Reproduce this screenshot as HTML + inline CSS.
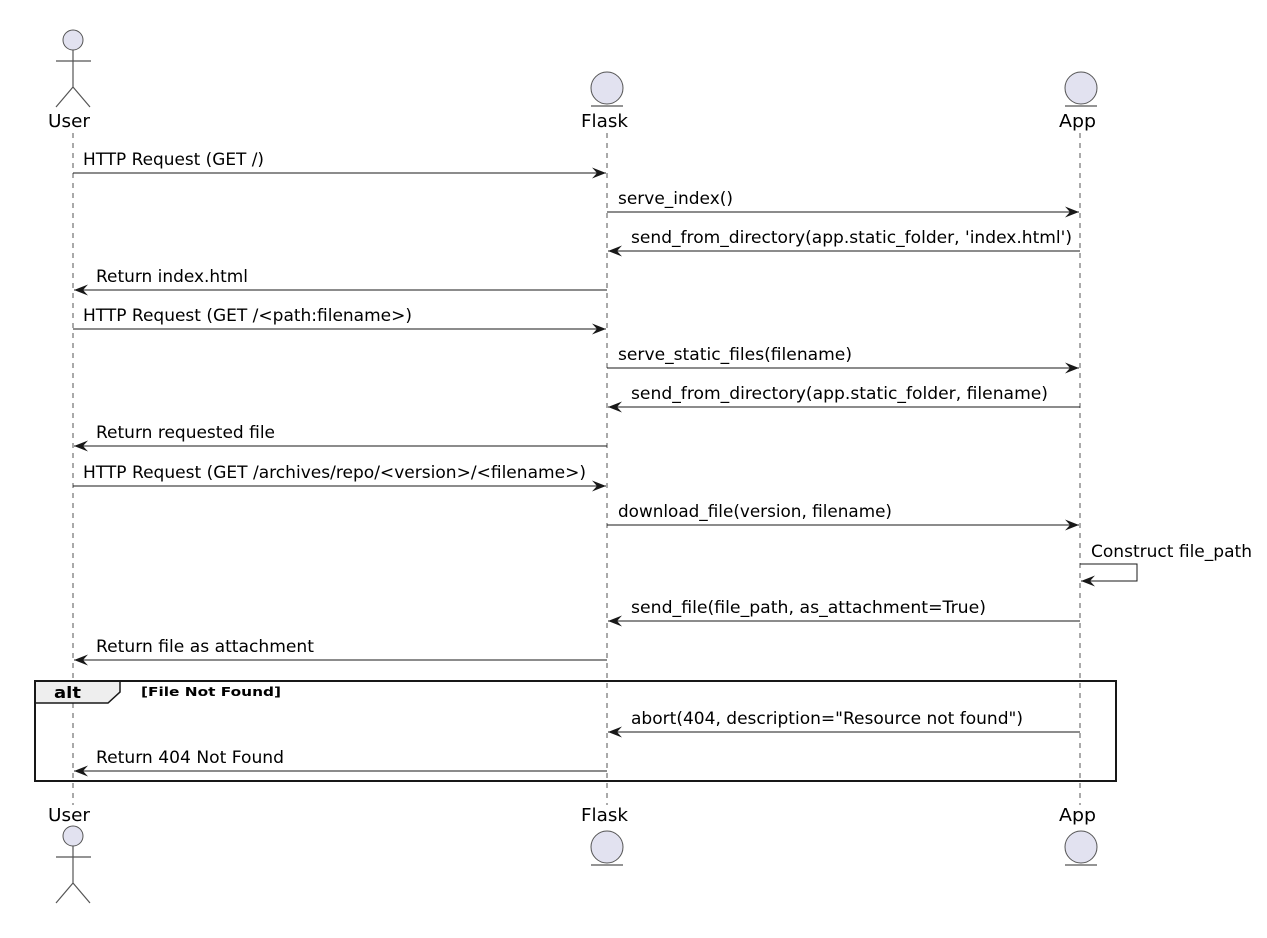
<!DOCTYPE html>
<html><head><meta charset="utf-8"><style>
html,body{margin:0;padding:0;background:#fff;}
svg{display:block;}
text{font-family:"DejaVu Sans","Liberation Sans",sans-serif;fill:#000;}
.m{font-size:16.5px;}
.h{font-size:18px;}
</style></head><body>
<svg width="1267" height="938" viewBox="0 0 1267 938" xmlns="http://www.w3.org/2000/svg">
<defs>
<marker id="a" markerWidth="15" markerHeight="11" refX="14" refY="5.5" orient="auto" markerUnits="userSpaceOnUse">
<path d="M0,0 L14,5.5 L0,11 L5,5.5 Z" fill="#181818"/>
</marker>
</defs>
<g stroke="#555" stroke-width="1" stroke-dasharray="5,5">
<line x1="73" y1="133" x2="73" y2="805"/>
<line x1="607" y1="133" x2="607" y2="805"/>
<line x1="1080" y1="133" x2="1080" y2="805"/>
</g>
<g fill="#e2e2f0" stroke="#555" stroke-width="1">
<circle cx="73" cy="40" r="10"/>
<circle cx="607" cy="88" r="16"/>
<circle cx="1081" cy="88" r="16"/>
<circle cx="73" cy="836" r="10"/>
<circle cx="607" cy="847" r="16"/>
<circle cx="1081" cy="847" r="16"/>
</g>
<g stroke="#555" stroke-width="1.2" fill="none">
<path d="M73,50 V87 M56,61 H91 M73,87 L56,107 M73,87 L90,107"/>
<path d="M73,846 V883 M56,857 H91 M73,883 L56,903 M73,883 L90,903"/>
<path d="M591,106 H623 M1065,106 H1097 M591,865 H623 M1065,865 H1097"/>
</g>
<text class="h" x="48" y="127" textLength="42" lengthAdjust="spacingAndGlyphs">User</text>
<text class="h" x="581" y="127" textLength="47" lengthAdjust="spacingAndGlyphs">Flask</text>
<text class="h" x="1059" y="127" textLength="37" lengthAdjust="spacingAndGlyphs">App</text>
<text class="h" x="48" y="821" textLength="42" lengthAdjust="spacingAndGlyphs">User</text>
<text class="h" x="581" y="821" textLength="47" lengthAdjust="spacingAndGlyphs">Flask</text>
<text class="h" x="1059" y="821" textLength="37" lengthAdjust="spacingAndGlyphs">App</text>
<g stroke="#181818" stroke-width="1" fill="none" marker-end="url(#a)">
<line x1="73" y1="173" x2="606" y2="173"/>
<line x1="607" y1="212" x2="1079" y2="212"/>
<line x1="1080" y1="251" x2="608" y2="251"/>
<line x1="607" y1="290" x2="74" y2="290"/>
<line x1="73" y1="329" x2="606" y2="329"/>
<line x1="607" y1="368" x2="1079" y2="368"/>
<line x1="1080" y1="407" x2="608" y2="407"/>
<line x1="607" y1="446" x2="74" y2="446"/>
<line x1="73" y1="486" x2="606" y2="486"/>
<line x1="607" y1="525" x2="1079" y2="525"/>
<path d="M1080,564 H1137 V581 H1081"/>
<line x1="1080" y1="621" x2="608" y2="621"/>
<line x1="607" y1="660" x2="74" y2="660"/>
<line x1="1080" y1="732" x2="608" y2="732"/>
<line x1="607" y1="771" x2="74" y2="771"/>
</g>
<text class="m" x="83" y="165" textLength="181" lengthAdjust="spacingAndGlyphs">HTTP Request (GET /)</text>
<text class="m" x="618" y="204" textLength="115" lengthAdjust="spacingAndGlyphs">serve_index()</text>
<text class="m" x="631" y="243" textLength="441" lengthAdjust="spacingAndGlyphs">send_from_directory(app.static_folder, 'index.html')</text>
<text class="m" x="96" y="282" textLength="152" lengthAdjust="spacingAndGlyphs">Return index.html</text>
<text class="m" x="83" y="321" textLength="329" lengthAdjust="spacingAndGlyphs">HTTP Request (GET /&lt;path:filename&gt;)</text>
<text class="m" x="618" y="360" textLength="234" lengthAdjust="spacingAndGlyphs">serve_static_files(filename)</text>
<text class="m" x="631" y="399" textLength="417" lengthAdjust="spacingAndGlyphs">send_from_directory(app.static_folder, filename)</text>
<text class="m" x="96" y="438" textLength="179" lengthAdjust="spacingAndGlyphs">Return requested file</text>
<text class="m" x="83" y="478" textLength="503" lengthAdjust="spacingAndGlyphs">HTTP Request (GET /archives/repo/&lt;version&gt;/&lt;filename&gt;)</text>
<text class="m" x="618" y="517" textLength="274" lengthAdjust="spacingAndGlyphs">download_file(version, filename)</text>
<text class="m" x="1091" y="557" textLength="161" lengthAdjust="spacingAndGlyphs">Construct file_path</text>
<text class="m" x="631" y="613" textLength="355" lengthAdjust="spacingAndGlyphs">send_file(file_path, as_attachment=True)</text>
<text class="m" x="96" y="652" textLength="218" lengthAdjust="spacingAndGlyphs">Return file as attachment</text>
<text class="m" x="631" y="724" textLength="392" lengthAdjust="spacingAndGlyphs">abort(404, description="Resource not found")</text>
<text class="m" x="96" y="763" textLength="188" lengthAdjust="spacingAndGlyphs">Return 404 Not Found</text>
<path d="M35,681 H120 V692 L108,703 H35 Z" fill="#eeeeee" stroke="#181818" stroke-width="1.5"/>
<rect x="35" y="681" width="1081" height="100" fill="none" stroke="#181818" stroke-width="2"/>
<text x="54" y="698" textLength="27" lengthAdjust="spacingAndGlyphs" style="font-size:16px;font-weight:bold">alt</text>
<text x="141" y="696" textLength="140" lengthAdjust="spacingAndGlyphs" style="font-size:12px;font-weight:bold">[File Not Found]</text>
</svg>
</body></html>
